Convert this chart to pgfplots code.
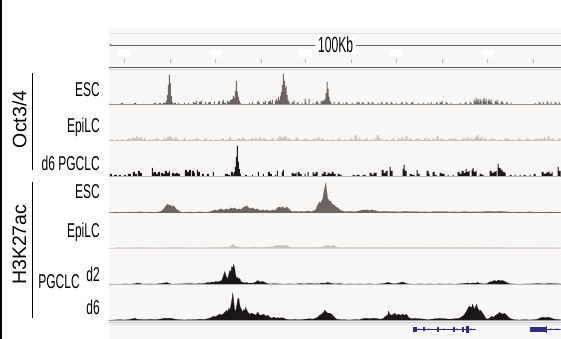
\documentclass[border=0pt]{standalone}
\usepackage{pgfplots}
\pgfplotsset{compat=1.18}
\usepackage{fontspec}
\setmainfont{Liberation Sans}
\definecolor{bgc}{HTML}{F8F7F5}
\definecolor{dg}{HTML}{6D6460}
\definecolor{lg}{HTML}{C9C1BD}
\definecolor{bk}{HTML}{1A1716}
\definecolor{gene}{HTML}{2E2B7E}
\pgfplotsset{trk/.style={anchor=south west, scale only axis, width=452pt, height=34pt,
  xmin=109, xmax=561, ymin=0, ymax=34, hide axis, clip=true}}
\newcommand{\lab}[2]{\node[anchor=east, inner sep=0pt] at (100,#1) {\scalebox{0.6}[1]{\fontsize{20}{20}\selectfont #2}};}
\begin{document}
\begin{tikzpicture}[x=1pt,y=1pt]
\fill[white] (0,0) rectangle (561,339);
\fill[black] (0,0) rectangle (2.5,339);
\fill[bgc] (109,0) rectangle (561,311);
\draw[gray!25, line width=0.5pt] (109,306) -- (561,306);
% ruler
\draw[gray!75!black, line width=0.8pt] (110,294) -- (561,294);
\fill[gray!75!black] (110.5,294) circle (1pt);
\foreach \t in {124,170,216,262,306,352,397,443,488,534}
  \draw[gray!55, line width=0.7pt] (\t,276) -- (\t,279.5);
\foreach \t in {123.5,216,306,397,488}
  \fill[white] (\t-6.5,282) rectangle (\t+6.5,289);
\node[fill=white, inner xsep=3pt, inner ysep=1pt] at (336,294) {\scalebox{0.55}[1]{\fontsize{22}{22}\selectfont 100Kb}};
\draw[gray!70!black, line width=1pt] (109,271) -- (561,271);
\draw[gray!35, line width=0.8pt] (109,269.5) -- (561,269.5);
% bottom separator
\draw[gray!45, line width=0.8pt] (109,16.5) -- (561,16.5);
\draw[gray!25, line width=0.8pt] (109,14.3) -- (561,14.3);

% Track 1: Oct3/4 ESC
\begin{axis}[trk, at={(109pt,234pt)}]
\addplot[const plot, fill=dg, draw=none] coordinates {
(109,0)(110,1)(112,0)(115,1)(116,0)(121,2)(123,1)(125,0)(129,1)(130,0)(134,2)(136,1)(137,0)(143,1)(144,0)(149,1)(150,0)(154,2)(156,1)(157,0)(159,2)(161,1)(163,2)(165,2)(166,4)(167,10)(168,20)(169,30)(170,22)(171,9)(172,3)(173,1)(174,2)(176,0)(178,2)(179,1)(181,0)(184,2)(185,0)(188,2)(189,1)(191,0)(193,3)(194,2)(196,4)(197,0)(199,3)(201,4)(202,0)(205,3)(206,1)(208,2)(209,3)(211,0)(214,3)(215,0)(218,3)(219,4)(220,0)(222,3)(223,5)(224,2)(226,0)(227,4)(228,3)(230,5)(232,6)(233,9)(234,7)(235,14)(236,24)(237,13)(238,8)(239,4)(240,2)(241,0)(244,1)(245,0)(249,2)(250,0)(252,3)(253,1)(255,0)(257,3)(258,4)(259,2)(260,0)(263,3)(264,2)(265,4)(266,0)(268,3)(269,4)(271,2)(272,5)(273,0)(275,4)(276,6)(277,4)(278,8)(279,5)(280,9)(281,13)(282,20)(283,31)(284,24)(285,17)(286,19)(287,10)(288,5)(289,3)(290,0)(292,3)(293,2)(294,4)(295,0)(297,2)(298,3)(299,0)(302,2)(303,0)(305,6)(306,2)(307,0)(309,6)(310,0)(313,2)(314,0)(316,3)(317,4)(318,2)(319,0)(321,4)(322,3)(323,5)(324,4)(325,6)(326,12)(327,23)(328,16)(329,8)(330,4)(331,2)(332,0)(334,3)(335,1)(336,0)(338,2)(339,3)(340,0)(343,2)(344,0)(346,3)(347,2)(348,0)(352,2)(353,1)(354,0)(357,3)(358,2)(359,3)(360,0)(362,2)(363,3)(364,1)(365,0)(368,3)(369,2)(370,0)(372,3)(373,2)(374,0)(378,2)(379,0)(381,2)(382,3)(383,0)(386,2)(387,3)(388,0)(391,3)(392,2)(393,0)(396,2)(397,0)(401,2)(402,3)(403,1)(404,0)(406,3)(407,2)(408,0)(411,2)(412,3)(413,2)(414,0)(418,2)(419,0)(423,2)(424,1)(425,0)(428,2)(429,0)(431,3)(432,1)(433,0)(436,2)(437,3)(438,0)(440,3)(441,2)(442,4)(443,1)(444,0)(446,3)(447,2)(448,0)(451,2)(452,0)(456,1)(457,0)(460,2)(461,1)(462,0)(465,2)(466,3)(467,0)(470,3)(471,2)(472,0)(474,5)(475,3)(476,7)(477,4)(478,6)(479,2)(480,6)(481,4)(482,0)(483,5)(484,7)(485,3)(486,6)(487,0)(488,4)(489,6)(490,3)(491,5)(492,2)(493,0)(495,4)(496,3)(497,5)(498,2)(499,0)(501,3)(502,4)(503,2)(504,0)(506,2)(507,3)(508,0)(511,2)(512,0)(516,1)(517,0)(526,1)(527,0)(535,2)(536,1)(537,0)(539,3)(540,2)(541,0)(543,3)(544,1)(545,0)(547,4)(548,2)(549,0)(551,3)(552,1)(553,0)(555,3)(556,2)(557,0)(559,3)(560,1)(561,0)
} \closedcycle;
\draw[dg!70, line width=0.5pt] (axis cs:109,0.2) -- (axis cs:561,0.2);
\end{axis}

% Track 2: Oct3/4 EpiLC
\begin{axis}[trk, at={(109pt,198.5pt)}]
\addplot[const plot, fill=lg, draw=none] coordinates {
(109,0)(111,1)(113,0)(116,1)(118,0)(121,1)(123,0)(126,1)(128,2)(130,1)(132,3)(134,2)(136,4)(138,2)(140,3)(142,1)(144,2)(146,0)(149,1)(151,0)(154,1)(156,2)(158,1)(160,0)(163,2)(165,1)(167,3)(169,4)(171,2)(173,1)(175,3)(177,1)(179,0)(182,1)(184,2)(186,0)(189,1)(191,0)(194,1)(196,2)(198,1)(200,0)(203,1)(205,2)(207,0)(210,1)(212,0)(215,1)(217,0)(220,1)(222,2)(224,0)(227,1)(229,3)(231,1)(233,0)(236,1)(238,2)(240,1)(242,3)(244,1)(246,0)(249,1)(251,2)(253,1)(255,2)(257,1)(259,3)(261,1)(263,2)(265,1)(267,0)(270,1)(272,2)(274,0)(277,2)(279,4)(281,2)(283,3)(285,4)(287,1)(289,2)(291,0)(294,1)(296,3)(298,1)(300,0)(303,1)(305,2)(307,1)(309,0)(312,1)(314,2)(316,1)(318,3)(320,1)(322,2)(324,0)(327,1)(329,0)(332,1)(334,0)(337,1)(339,2)(341,0)(344,1)(346,0)(349,1)(351,2)(353,0)(355,5)(357,1)(359,2)(361,0)(364,1)(366,2)(368,0)(371,1)(373,0)(375,2)(377,5)(379,2)(381,1)(383,0)(386,1)(388,0)(391,1)(393,2)(395,0)(398,2)(400,1)(402,3)(404,1)(406,4)(408,1)(410,2)(412,0)(415,1)(417,2)(419,1)(421,0)(424,2)(426,1)(428,2)(430,0)(433,2)(435,1)(437,4)(439,1)(441,2)(443,1)(445,0)(448,1)(450,2)(452,1)(454,2)(456,1)(458,0)(461,1)(463,2)(465,1)(467,3)(469,1)(471,2)(473,1)(475,3)(477,5)(479,2)(481,3)(483,1)(485,2)(487,0)(490,1)(492,2)(494,1)(496,0)(499,1)(501,0)(504,1)(506,2)(508,1)(510,0)(513,1)(515,0)(518,2)(520,1)(522,0)(525,1)(527,2)(529,1)(531,0)(534,1)(536,2)(538,1)(540,2)(542,1)(544,3)(546,1)(548,4)(550,1)(552,2)(554,0)(557,1)(559,2)(561,0)
} \closedcycle;
\draw[lg, line width=0.5pt] (axis cs:109,0.2) -- (axis cs:561,0.2);
\end{axis}

% Track 3: Oct3/4 d6 PGCLC
\begin{axis}[trk, at={(109pt,162pt)}]
\addplot[const plot, fill=bk, draw=none] coordinates {
(109,0)(110,3)(112,0)(114,2)(117,0)(119,2)(121,0)(124,2)(126,0)(128,3)(131,0)(133,5)(135,3)(137,0)(138,6)(140,4)(142,0)(152,9)(153,4)(154,5)(156,3)(158,5)(160,0)(161,4)(163,3)(165,6)(167,4)(169,6)(170,0)(172,4)(174,3)(176,4)(178,3)(180,0)(185,7)(187,5)(189,7)(191,0)(192,6)(194,4)(195,0)(197,7)(198,5)(200,0)(202,3)(204,0)(207,3)(209,0)(213,5)(214,0)(225,3)(228,2)(230,0)(231,5)(233,3)(234,5)(235,10)(236,20)(237,31)(238,15)(239,8)(240,3)(241,0)(245,2)(247,0)(252,2)(253,0)(258,5)(259,0)(263,3)(264,0)(268,5)(270,3)(272,0)(275,2)(276,0)(277,6)(278,0)(282,5)(283,7)(284,0)(292,4)(294,3)(296,4)(297,0)(298,5)(300,3)(302,0)(305,3)(306,0)(308,5)(309,0)(313,5)(314,3)(316,5)(318,0)(322,3)(324,5)(326,2)(328,4)(330,3)(332,5)(334,3)(336,0)(338,3)(340,2)(342,0)(353,2)(355,1)(357,2)(360,0)(363,2)(366,0)(370,4)(372,2)(374,4)(377,0)(382,7)(384,4)(386,6)(388,0)(390,10)(391,6)(393,0)(403,8)(404,12)(405,6)(407,0)(410,3)(412,2)(415,0)(417,7)(418,3)(420,0)(427,6)(429,3)(430,0)(433,5)(435,2)(437,0)(440,4)(442,3)(445,0)(448,2)(449,0)(453,2)(454,0)(458,5)(460,3)(462,6)(464,4)(466,8)(467,5)(469,6)(470,0)(472,7)(473,9)(474,5)(476,6)(477,0)(480,3)(482,2)(484,0)(490,6)(492,4)(494,5)(496,6)(497,0)(498,13)(499,9)(501,7)(503,5)(505,4)(506,0)(510,2)(512,0)(515,2)(516,0)(520,2)(521,0)(524,2)(526,0)(530,2)(531,0)(534,3)(536,0)(542,5)(544,3)(546,4)(548,5)(550,3)(552,5)(553,0)(558,10)(559,6)(561,0)
} \closedcycle;
\draw[gray!60, line width=0.5pt] (axis cs:109,0.2) -- (axis cs:561,0.2);
\end{axis}

% Track 4: H3K27ac ESC
\begin{axis}[trk, at={(109pt,126pt)}]
\addplot[fill=dg, draw=dg, line width=0.2pt] coordinates {
(109,0)(115,0.5)(125,0.3)(130,0.8)(135,0.5)(140,1)(145,0.5)(150,0.8)(155,0.5)(160,1)(162,2)(164,4)(166,7)(168,9)(169,7)(170,8)(172,6)(174,7)(176,4)(178,3)(180,1)(183,0.5)(190,0.8)(195,0.5)(200,1)(205,0.5)(210,1)(213,2)(215,3)(217,2)(219,3)(221,4)(223,3)(225,3)(227,4)(229,3)(231,5)(233,4)(235,5)(237,3)(239,4)(241,3)(243,5)(245,6)(247,7)(249,5)(251,4)(253,5)(255,3)(257,4)(259,3)(261,2)(263,3)(265,2)(267,3)(269,2)(271,2)(273,3)(275,2)(277,4)(279,6)(281,5)(283,6)(285,4)(287,6)(289,4)(291,2)(293,1)(296,1.5)(299,1)(302,1.5)(305,1)(308,2)(311,1)(314,2)(316,3)(318,8)(320,11)(321,9)(322,12)(323,14)(324,20)(325,25)(326,30)(327,22)(328,14)(329,13)(330,11)(331,12)(332,9)(334,8)(336,6)(338,5)(340,3)(342,2)(344,1.5)(346,1)(350,1.5)(355,1)(360,2)(362,2.5)(364,3)(366,2.5)(368,3)(370,2)(372,3)(374,2.5)(376,2)(378,1.5)(380,1)(385,1.5)(390,1)(395,1.2)(400,0.8)(405,1.5)(410,1)(415,1.2)(420,0.8)(425,1)(430,0.7)(435,1.2)(440,1)(445,1.3)(450,0.8)(455,1)(460,0.7)(465,1.2)(470,0.8)(475,1)(480,0.8)(485,1.2)(490,1.5)(495,1)(500,1.5)(505,1)(510,0.8)(515,0.5)(520,0.8)(525,0.5)(530,1)(535,0.5)(540,0.7)(545,0.5)(550,0.8)(555,0.5)(561,0.7)
} \closedcycle;
\end{axis}

% Track 5: H3K27ac EpiLC
\begin{axis}[trk, at={(109pt,90.5pt)}]
\addplot[fill=lg, draw=lg, line width=0.3pt] coordinates {
(109,0)(115,0.3)(120,0.6)(125,0.3)(130,0.6)(135,0.4)(140,0.7)(145,0.4)(150,0.6)(155,0.3)(160,0.6)(165,0.4)(170,0.8)(175,0.5)(180,0.7)(185,0.4)(190,0.6)(195,0.4)(200,0.6)(205,0.5)(210,0.7)(215,0.8)(220,1)(225,0.8)(229,1)(231,2)(233,4)(235,2)(237,1.5)(240,1)(245,0.8)(250,1)(255,1.2)(260,0.8)(265,1)(270,1.2)(274,1.5)(276,2.5)(278,3)(280,2.5)(282,3)(284,2.5)(286,3)(288,2)(290,1)(295,0.8)(300,1)(305,0.7)(310,1)(315,0.8)(320,1)(324,1.5)(326,2.5)(328,3)(330,2.5)(332,2)(334,3)(336,1.5)(338,1)(342,0.7)(350,0.8)(355,0.5)(360,0.8)(365,0.5)(370,0.8)(375,0.6)(380,0.9)(385,0.5)(390,0.8)(395,0.6)(400,0.9)(405,0.5)(410,0.8)(415,0.6)(420,0.8)(425,0.5)(430,0.7)(435,0.5)(440,0.8)(445,0.6)(450,0.8)(455,0.5)(460,0.7)(465,0.5)(470,0.8)(475,0.6)(480,0.7)(485,0.5)(490,0.8)(495,0.5)(500,0.7)(505,0.5)(510,0.6)(515,0.4)(520,0.6)(525,0.4)(530,0.6)(535,0.4)(540,0.6)(545,0.4)(550,0.6)(555,0.4)(561,0.5)
} \closedcycle;
\end{axis}

% Track 6: H3K27ac PGCLC d2
\begin{axis}[trk, at={(109pt,54.3pt)}]
\addplot[fill=bk, draw=bk, line width=0.2pt] coordinates {
(109,0)(115,0.3)(120,0.2)(125,0.5)(130,0.3)(135,0.7)(138,1.5)(140,1)(143,0.3)(150,0.5)(155,0.3)(160,0.8)(165,1.5)(167,2)(169,1)(172,0.3)(180,0.5)(190,0.8)(195,0.5)(200,0.8)(205,1)(208,2)(210,1.5)(212,2.5)(214,2)(216,3)(218,2.5)(220,3)(222,4)(224,10)(225,13)(226,9)(227,7)(228,6)(229,10)(230,14)(231,12)(232,18)(233,16)(234,20)(235,15)(236,9)(237,6)(238,7)(239,5)(240,6)(241,3)(243,2)(245,1.5)(247,2)(249,1)(251,1.5)(253,1)(255,2)(257,3)(258,4)(259,3)(261,2.5)(263,3)(265,2)(267,1)(270,0.5)(275,0.7)(280,0.5)(285,0.3)(290,0.6)(295,0.3)(300,0.8)(305,0.5)(310,1)(315,0.5)(318,0.8)(320,0.5)(322,1.5)(325,1)(328,2)(330,1.5)(332,1)(335,0.5)(340,0.8)(345,0.3)(350,0.5)(355,0.3)(360,0.5)(365,0.3)(370,0.6)(375,0.3)(380,0.5)(385,1)(388,2)(390,1.5)(392,1)(395,0.5)(400,1.5)(403,2.5)(405,1.5)(408,0.5)(415,0.3)(420,0.5)(425,0.3)(430,0.5)(435,0.3)(440,0.6)(445,0.3)(450,0.5)(455,0.3)(460,0.6)(465,1)(468,1.5)(470,1)(473,1.5)(476,1.2)(478,2)(480,1)(485,0.5)(488,1)(490,2.5)(493,3)(495,4)(497,3)(499,4.5)(501,3.5)(503,4)(505,3)(507,2)(509,1)(512,0.5)(520,0.3)(530,0.5)(540,0.8)(545,0.5)(550,1)(555,0.7)(561,0.5)
} \closedcycle;
\draw[gray!60, line width=0.4pt] (axis cs:109,0.2) -- (axis cs:561,0.2);
\end{axis}

% Track 7: H3K27ac PGCLC d6
\begin{axis}[trk, at={(109pt,18.5pt)}]
\addplot[fill=bk, draw=bk, line width=0.2pt] coordinates {
(109,0)(115,0.3)(120,0.5)(125,0.3)(130,0.8)(133,1.5)(135,2)(137,1)(140,0.8)(145,0.5)(150,0.8)(155,0.6)(160,1)(162,1.5)(165,2)(168,1.8)(170,2)(173,1.5)(175,1)(180,0.5)(185,0.3)(190,0.6)(195,0.5)(200,1)(205,0.8)(208,1.5)(210,2)(212,3)(214,4)(216,3.5)(218,5)(220,6)(222,5)(224,7)(226,9)(227,10)(228,8)(229,12)(230,10)(231,14)(232,20)(233,27)(234,18)(235,10)(236,9)(237,15)(238,21)(239,22)(240,15)(241,12)(242,10)(243,8)(244,11)(245,9)(246,13)(247,10)(248,8)(249,7)(250,6)(252,7)(254,6)(256,5)(258,8)(260,5)(262,5)(264,6)(266,4)(268,5)(270,3)(272,2)(274,3)(276,2)(278,2.5)(280,2)(282,2.5)(284,2)(286,1)(290,0.5)(295,0.8)(300,0.5)(305,1)(310,1.5)(313,1)(316,2)(318,3)(320,5)(322,6)(324,8)(325,10)(326,9)(328,7)(330,7)(332,6)(334,4)(336,1.5)(338,0.8)(345,0.5)(350,0.3)(355,0.5)(360,0.6)(363,1.5)(366,2)(370,1.5)(374,2)(378,1.5)(381,1)(384,2)(386,4)(388,5)(389,9)(390,6)(392,5)(394,6)(395,7)(397,5)(399,6)(401,5)(403,6)(405,5)(407,6)(408,4)(410,2)(412,1.5)(415,1.8)(420,1.5)(425,1)(428,0.5)(432,1)(436,1.5)(440,1.8)(445,1.5)(450,1)(455,1.5)(460,2)(463,4)(465,6)(467,9)(469,13)(470,14)(472,12)(473,16)(474,13)(475,11)(477,16)(478,12)(480,9)(481,10)(483,7)(485,4)(486,2)(488,1)(490,2)(492,4)(494,3)(496,5)(498,6)(500,8)(501,7)(503,6)(505,7)(507,5)(509,3)(511,1.5)(513,1)(515,0.5)(520,0.3)(525,0.5)(530,0.3)(535,0.5)(538,1)(540,2)(543,3)(546,2.5)(549,3)(552,2)(555,1)(558,0.8)(561,0.5)
} \closedcycle;
\end{axis}

% gene track
\begin{axis}[anchor=south west, scale only axis, width=452pt, height=14pt, at={(109pt,2pt)},
  xmin=109, xmax=561, ymin=-7, ymax=7, hide axis, clip=true]
\addplot[gene, line width=0.7pt] coordinates {(413,0)(476,0)};
\addplot[gene, line width=0.7pt] coordinates {(530,0)(561,0)};
\end{axis}
\fill[gene] (413,7) rectangle (417.5,12);
\fill[gene] (423.5,7.5) rectangle (425,11.5);
\fill[gene] (437,7) rectangle (439,12);
\fill[gene] (453.5,7) rectangle (455,12);
\fill[gene] (462.5,7) rectangle (464,12);
\fill[gene] (466.5,6) rectangle (469.5,13);
\fill[gene] (530,7) rectangle (546,12);
\fill[gene] (546,6) rectangle (547,13);
\foreach \a in {420,430,445,458,472,552,558}
  \draw[gene, line width=0.4pt] (\a-1,10.5) -- (\a,9.5) -- (\a-1,8.5);

% labels
\lab{249}{ESC}
\lab{212}{EpiLC}
\lab{175}{d6 PGCLC}
\lab{147}{ESC}
\lab{106}{EpiLC}
\lab{64}{d2}
\node[anchor=east, inner sep=0pt] at (80,57) {\scalebox{0.6}[1]{\fontsize{20}{20}\selectfont PGCLC}};
\lab{31}{d6}
\draw[black, line width=0.8pt] (32,266) -- (32,169);
\draw[black, line width=0.8pt] (32,157) -- (32,21);
\node[rotate=90, inner sep=0pt] at (19.5,219.5) {\fontsize{19.5}{19.5}\selectfont Oct3/4};
\node[rotate=90, inner sep=0pt] at (19.5,94) {\fontsize{19.5}{19.5}\selectfont H3K27ac};
\end{tikzpicture}
\end{document}
